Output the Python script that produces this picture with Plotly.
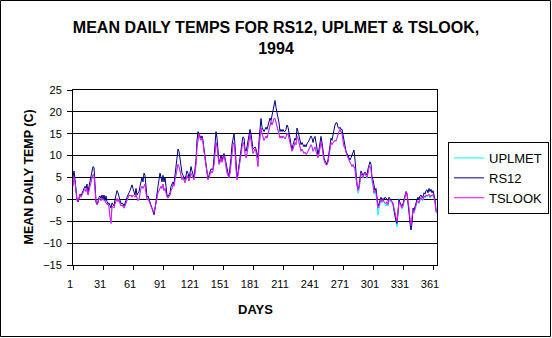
import plotly.graph_objects as go

days = list(range(1, 366))
day_ticks = [1, 31, 61, 91, 121, 151, 181, 211, 241, 271, 301, 331, 361]
y_ticks = [-15, -10, -5, 0, 5, 10, 15, 20, 25]

tslook = [
    3.0, 5.0, 4.0, 1.5, -0.3, -0.5, 0.3, 1.0, 0.5, 1.2,
    1.5, 2.0, 2.3, 1.8, 2.5, 1.0, 2.5, 3.0, 4.0, 5.0,
    5.7, 5.5, 2.8, -0.8, -1.0, -0.5, 0.2, 0.0, -0.3, 0.3,
    -0.2, 0.0, -0.5, -1.0, -1.2, -1.0, -1.8, -4.0, -5.5, -1.5,
    -1.8, -2.0, -1.0, -0.3, 0.2, -0.5, 0.0, -1.0, -1.5, -1.2,
    -1.8, -2.0, -1.5, -0.8, -0.2, 0.5, 1.0, 0.8, 1.0, 0.5,
    1.0, 0.8, 0.5, 1.0, 0.3, -0.3, 0.0, 1.5, 2.5, 3.0,
    2.5, 3.0, 3.5, 1.5, 0.0, 0.3, -0.5, -1.0, -1.5, -2.0,
    -2.5, -3.0, -2.0, -0.5, 0.5, 1.5, 2.0, 2.5, 3.0, 2.5,
    3.5, 2.0, 2.5, 1.5, 0.5, 0.3, 0.8, 1.0, 2.0, 2.5,
    3.5, 3.0, 4.5, 6.0, 7.0, 8.0, 7.5, 6.5, 5.0, 4.5,
    5.0, 4.2, 3.8, 4.5, 5.5, 5.0, 4.2, 5.0, 6.0, 5.5,
    5.0, 4.5, 6.0, 8.0, 12.0, 14.0, 15.0, 14.0, 13.5, 14.0,
    13.0, 11.0, 9.0, 7.0, 5.5, 4.5, 5.0, 6.0, 6.5, 6.0,
    6.5, 8.0, 11.0, 13.0, 12.0, 9.0, 8.0, 8.5, 9.5, 8.5,
    9.5, 10.0, 9.0, 7.0, 6.0, 5.5, 5.0, 6.0, 8.5, 11.0,
    12.5, 13.0, 11.0, 7.0, 4.5, 5.5, 7.5, 9.5, 11.0, 12.0,
    13.0, 12.5, 10.5, 9.5, 10.5, 12.0, 14.0, 14.8, 13.5, 12.0,
    10.5, 11.0, 11.5, 11.0, 9.0, 7.5, 12.0, 15.0, 16.3, 15.0,
    14.0, 13.5, 14.0, 14.5, 14.0, 15.0, 16.5, 17.0, 17.8, 17.0,
    18.0, 18.5, 18.5, 17.5, 17.0, 16.0, 15.0, 14.0, 14.5, 14.0,
    14.5, 14.0, 13.8, 14.3, 15.0, 15.0, 14.0, 13.0, 12.0, 11.0,
    11.5, 12.5, 13.0, 12.5, 14.4, 14.0, 13.0, 12.0, 11.0, 11.5,
    11.0, 10.5, 10.8, 10.3, 10.5, 11.0, 11.5, 12.0, 12.5, 12.0,
    11.0, 11.5, 12.0, 11.0, 10.0, 9.5, 10.5, 12.0, 13.2, 12.0,
    10.2, 9.0, 8.3, 7.9, 7.9, 8.5, 10.0, 12.0, 13.0, 12.5,
    13.0, 13.3, 13.5, 13.3, 14.0, 15.0, 15.5, 16.0, 15.5, 15.0,
    13.5, 12.0, 11.7, 10.5, 10.0, 9.5, 9.0, 8.7, 8.0, 7.5,
    8.0, 7.5, 7.0, 5.0, 3.0, 2.0, 2.5, 4.5, 6.0, 5.5,
    5.0, 5.8, 6.0, 5.5, 5.0, 6.0, 7.5, 7.5, 7.0, 4.5,
    3.5, 1.5, 2.0, 1.5, 0.0, -2.0, -1.5, -0.5, 0.0, -0.5,
    0.0, -0.5, -0.8, -1.0, -0.5, -1.2, 0.0, -0.2, -0.3, -0.5,
    -1.0, -2.0, -3.5, -4.5, -5.0, -3.0, -0.5, -1.0, -1.5, -2.0,
    -1.5, -0.5, 0.5, 1.7, 1.5, 0.0, -2.0, -4.5, -6.0, -4.0,
    -2.5, -3.0, -2.0, -1.5, -0.5, -0.3, -0.8, 0.0, 0.5, 0.0,
    0.0, 0.8, 0.5, 1.0, 0.8, 1.0, 1.2, 0.5, 1.0, 0.8,
    1.2, 0.5, -0.5, -2.8, -3.0,
]

rs12 = [
    5.0, 6.5, 4.5, 2.0, 0.0, -0.6, 0.5, 1.2, 0.8, 1.5,
    1.8, 2.5, 3.0, 2.5, 3.5, 1.5, 3.0, 4.0, 5.5, 6.5,
    7.5, 7.3, 4.0, -0.5, -1.2, -0.8, 0.5, 0.8, 0.2, 1.0,
    0.0, 1.0, -0.3, 0.8, -0.5, -1.0, -0.8, -1.5, -2.0, -0.8,
    -1.2, -1.5, 0.0, 1.0, 2.0, 1.5, 0.5, -0.5, -1.0, -0.8,
    -1.0, -1.5, -1.0, -0.2, 0.5, 1.2, 1.5, 2.0, 3.0, 3.3,
    2.5, 1.5, 1.0, 2.5, 1.0, 1.5, 1.7, 3.0, 4.5, 5.0,
    4.0, 6.0, 5.5, 3.0, 0.5, 0.8, 0.0, -0.8, -1.5, -2.2,
    -3.0, -3.5, -2.2, 0.0, 1.5, 3.0, 4.5, 6.0, 5.0, 4.0,
    5.5, 4.0, 5.0, 2.5, 1.0, 0.6, 1.2, 1.5, 3.0, 3.5,
    4.0, 3.5, 5.5, 8.0, 10.0, 11.5, 11.0, 9.0, 7.0, 6.0,
    5.5, 5.0, 4.5, 5.5, 6.5, 6.0, 5.0, 6.0, 7.5, 6.5,
    5.5, 5.0, 7.0, 9.0, 13.5, 15.5, 15.0, 14.5, 14.0, 14.5,
    13.5, 11.5, 9.5, 7.5, 6.0, 4.7, 5.5, 6.5, 7.0, 6.8,
    7.0, 9.5, 13.0, 15.5, 14.0, 10.0, 8.5, 9.0, 10.0, 9.0,
    10.0, 10.5, 9.5, 8.0, 6.5, 6.0, 5.2, 7.0, 9.5, 12.5,
    14.0, 15.0, 12.5, 8.0, 5.0, 6.0, 8.0, 10.5, 12.0, 13.0,
    14.3, 14.0, 11.5, 11.0, 12.0, 13.5, 15.0, 16.0, 15.0, 13.0,
    11.5, 11.7, 12.0, 11.5, 10.0, 9.5, 13.5, 17.0, 18.5, 16.5,
    16.0, 15.5, 16.0, 16.5, 16.0, 17.0, 18.0, 18.6, 18.0, 19.0,
    20.5, 21.5, 22.6, 21.0, 19.8, 19.0, 17.5, 15.5, 16.0, 15.5,
    16.0, 15.5, 15.5, 16.0, 17.0, 16.5, 15.5, 14.0, 12.5, 11.5,
    12.5, 13.5, 14.0, 13.5, 16.3, 15.5, 14.5, 13.0, 12.5, 13.0,
    12.5, 12.0, 12.5, 12.0, 12.8, 13.0, 13.5, 14.0, 14.5, 14.0,
    13.0, 14.0, 14.4, 13.0, 11.0, 10.2, 11.5, 13.5, 14.4, 13.0,
    10.5, 9.5, 8.8, 8.2, 8.0, 9.0, 11.0, 13.0, 14.0, 13.5,
    15.0, 16.0, 17.0, 17.5, 17.5, 16.5, 16.2, 16.5, 16.0, 16.0,
    14.5, 13.0, 12.0, 11.0, 10.5, 10.0, 9.5, 9.0, 9.5, 10.0,
    10.5, 11.3, 9.0, 6.0, 3.5, 2.5, 3.0, 5.0, 6.5, 6.0,
    5.5, 6.0, 6.2, 6.0, 5.5, 7.0, 8.0, 8.6, 8.0, 5.0,
    4.5, 3.0, 2.0, 2.5, 1.0, -1.5, -1.0, 0.0, 0.5, 0.0,
    0.2, 0.0, 0.5, 0.3, 0.0, -0.3, 0.5, 0.0, -0.2, -0.5,
    -1.0, -2.5, -4.0, -5.0, -5.5, -3.0, 0.0, -0.8, -1.2, -1.5,
    -1.0, 0.0, 1.0, 1.8, 1.2, -0.5, -3.0, -5.5, -7.0, -5.5,
    -2.0, -2.5, -1.5, -1.0, 0.0, 0.5, 0.0, 0.8, 1.0, 0.5,
    0.5, 1.5, 1.2, 2.0, 2.2, 1.5, 2.5, 1.8, 2.3, 1.5,
    2.0, 1.0, 0.0, -2.5, -2.8,
]

uplmet = [
    3.0, 5.0, 4.0, 1.5, -0.3, -0.5, 0.3, 1.0, 0.5, 1.2,
    1.5, 2.0, 2.3, 1.8, 2.5, 1.0, 2.5, 3.0, 4.0, 5.0,
    5.7, 5.5, 2.8, -0.8, -1.0, -0.5, 0.2, 0.0, -0.3, 0.3,
    -0.2, 0.0, -0.5, -1.0, -1.2, -1.0, -1.8, -4.0, -5.5, -1.5,
    -1.8, -2.0, -1.0, -0.3, 0.2, -0.5, 0.0, -1.0, -1.5, -1.2,
    -1.8, -2.0, -1.5, -0.8, -0.2, 0.5, 1.0, 0.8, 1.0, 0.5,
    1.0, 0.8, 0.5, 1.0, 0.3, -0.3, 0.0, 1.5, 2.5, 3.0,
    2.5, 3.0, 3.5, 1.5, 0.0, 0.3, -0.5, -1.0, -1.5, -2.0,
    -2.5, -3.0, -2.0, -0.5, 0.5, 1.5, 2.0, 2.5, 3.0, 2.5,
    3.5, 2.0, 2.5, 1.5, 0.5, 0.3, 0.8, 1.0, 2.0, 2.5,
    3.5, 3.0, 4.5, 6.0, 7.0, 8.0, 7.5, 6.5, 5.0, 4.5,
    5.0, 4.2, 3.8, 4.5, 5.5, 5.0, 4.2, 5.0, 6.0, 5.5,
    5.0, 4.5, 6.0, 8.0, 12.0, 14.0, 15.0, 14.0, 13.5, 14.0,
    13.0, 11.0, 9.0, 7.0, 5.5, 4.5, 5.0, 6.0, 6.5, 6.0,
    6.5, 8.0, 11.0, 13.0, 12.0, 9.0, 8.0, 8.5, 9.5, 8.5,
    9.5, 10.0, 9.0, 7.0, 6.0, 5.5, 5.0, 6.0, 8.5, 11.0,
    12.5, 13.0, 11.0, 7.0, 4.5, 5.5, 7.5, 9.5, 11.0, 12.0,
    13.0, 12.5, 10.5, 9.5, 10.5, 12.0, 14.0, 14.8, 13.5, 12.0,
    10.5, 11.0, 11.5, 11.0, 9.0, 7.5, 12.0, 15.0, 16.3, 15.0,
    14.0, 13.5, 14.0, 14.5, 14.0, 15.0, 16.5, 17.0, 17.8, 17.0,
    18.0, 18.5, 18.5, 17.5, 17.0, 16.0, 15.0, 14.0, 14.5, 14.0,
    14.5, 14.0, 13.8, 14.3, 15.0, 15.0, 14.0, 13.0, 12.0, 11.0,
    11.5, 12.5, 13.0, 12.5, 14.4, 14.0, 13.0, 12.0, 11.0, 11.5,
    11.0, 10.5, 10.8, 10.3, 10.5, 11.0, 11.5, 12.0, 12.5, 12.0,
    11.0, 11.5, 12.0, 11.0, 10.0, 9.5, 10.5, 12.0, 13.2, 12.0,
    10.2, 9.0, 8.3, 7.9, 7.9, 8.5, 10.0, 12.0, 13.0, 12.5,
    13.0, 13.3, 13.5, 13.3, 14.0, 15.0, 15.5, 16.0, 15.5, 15.0,
    13.5, 12.0, 11.7, 10.5, 10.0, 9.5, 9.0, 8.7, 8.0, 7.5,
    7.8, 7.2, 6.5, 4.5, 2.5, 1.4, 2.0, 4.0, 5.8, 5.3,
    4.8, 5.5, 5.8, 5.2, 4.8, 5.8, 7.3, 7.3, 6.8, 4.0,
    3.0, 1.2, 1.8, 1.2, -0.5, -3.6, -2.0, -1.0, -0.2, -0.8,
    -0.3, -0.8, -1.2, -1.5, -0.8, -1.5, -0.3, -0.5, -0.5, -0.8,
    -1.3, -2.5, -4.0, -5.0, -6.3, -3.5, 0.2, -1.2, -1.8, -2.2,
    -1.8, -0.8, 0.3, 1.5, 1.2, -0.3, -2.5, -5.0, -6.3, -4.5,
    -2.8, -3.2, -2.3, -1.8, -0.8, -0.5, -1.0, -0.3, 0.3, -0.2,
    -0.2, 0.6, 0.3, 0.8, 0.6, 0.8, 1.0, 0.3, 0.8, 0.6,
    1.0, 0.3, -0.8, -3.0, -3.2,
]

FONT = "Liberation Sans, Arial, Helvetica, sans-serif"

fig = go.Figure()
fig.add_trace(go.Scatter(x=days, y=uplmet, mode="lines", name="UPLMET",
                         line=dict(color="#00FFFF", width=1)))
fig.add_trace(go.Scatter(x=days, y=rs12, mode="lines", name="RS12",
                         line=dict(color="#000080", width=1)))
fig.add_trace(go.Scatter(x=days, y=tslook, mode="lines", name="TSLOOK",
                         line=dict(color="#FF00FF", width=1)))

# plot area: x 73..437, y 90..265 (pixels)
L, R, T, B = 73, 437, 90, 265
W, H = 552, 338
pw, ph = R - L, B - T

def px(x):
    return (x - L) / pw

def py(y):
    return (B - y) / ph

fig.update_layout(
    width=W, height=H,
    margin=dict(l=L, r=W - R, t=T, b=H - B, autoexpand=False),
    paper_bgcolor="white", plot_bgcolor="white",
    font=dict(family=FONT, size=11, color="black"),
    title=dict(
        text="<b>MEAN DAILY TEMPS FOR RS12, UPLMET & TSLOOK,<br>1994</b>",
        x=0.5, xref="container", xanchor="center",
        y=1 - 33 / H, yref="container", yanchor="middle",
        font=dict(family=FONT, size=16, color="black"),
    ),
    showlegend=True,
    legend=dict(
        x=px(448), y=py(142), xanchor="left", yanchor="top",
        bordercolor="black", borderwidth=1, bgcolor="white",
        font=dict(family=FONT, size=13, color="black"),
        tracegroupgap=0,
    ),
    xaxis=dict(
        range=[1, 365], tickmode="array", tickvals=day_ticks,
        ticktext=[str(d) for d in day_ticks],
        showgrid=False, zeroline=False,
        showline=True, linecolor="black", linewidth=1, mirror=True,
        ticks="outside", ticklen=4, tickcolor="black", tickwidth=1,
        tickfont=dict(family=FONT, size=11, color="black"),
        ticklabelshift=-3, ticklabelstandoff=5,
    ),
    yaxis=dict(
        range=[-15, 25], tickmode="array", tickvals=y_ticks,
        showgrid=True, gridcolor="black", gridwidth=1, zeroline=False,
        showline=True, linecolor="black", linewidth=1, mirror=True,
        ticks="outside", ticklen=5, tickcolor="black", tickwidth=1,
        tickfont=dict(family=FONT, size=11, color="black"),
        ticklabelstandoff=3,
    ),
    annotations=[
        dict(text="<b>MEAN DAILY TEMP (C)</b>", textangle=-90,
             x=px(28), y=0.5, xref="paper", yref="paper",
             xanchor="center", yanchor="middle", showarrow=False,
             font=dict(family=FONT, size=12.5, color="black")),
        dict(text="<b>DAYS</b>",
             x=0.5, y=py(309), xref="paper", yref="paper",
             xanchor="center", yanchor="middle", showarrow=False,
             font=dict(family=FONT, size=13, color="black")),
    ],
    shapes=[
        dict(type="rect", xref="paper", yref="paper",
             x0=px(0.5), x1=px(550.5), y0=py(336.5), y1=py(0.5),
             line=dict(color="black", width=1), layer="below"),
    ],
)

fig.write_html("out.html")
